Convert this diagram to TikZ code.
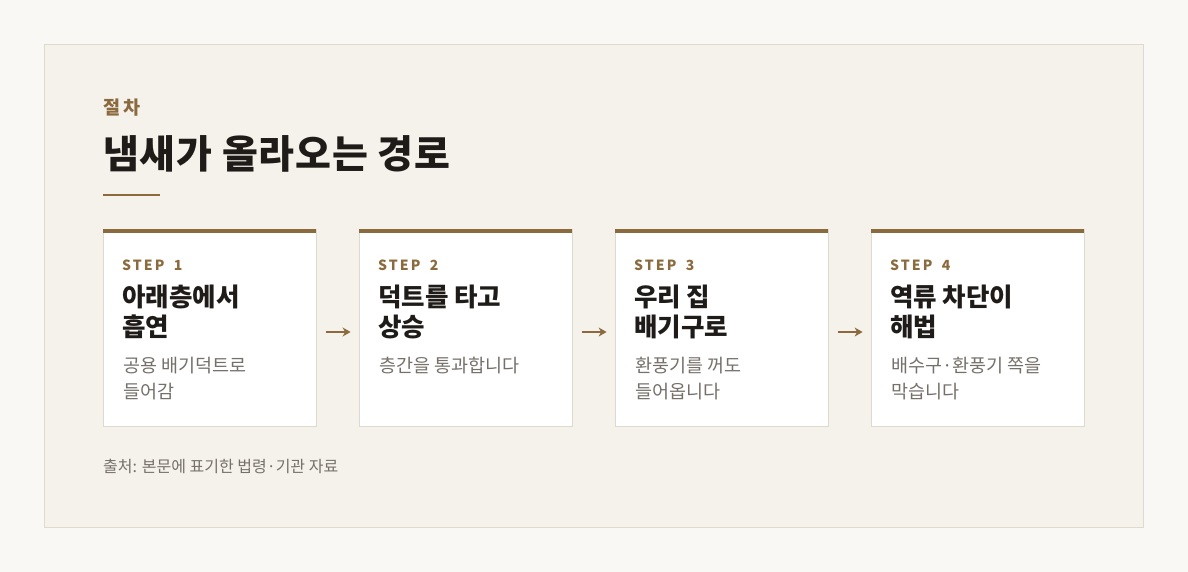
\documentclass[tikz,border=0pt]{standalone}
\usepackage{fontspec}
\setmainfont{Noto Sans CJK KR}
\usetikzlibrary{arrows.meta}
\definecolor{pagebg}{HTML}{F9F8F5}
\definecolor{panelbg}{HTML}{F5F2EB}
\definecolor{panelline}{HTML}{E0D9CE}
\definecolor{brown}{HTML}{8B6A3E}
\definecolor{ink}{HTML}{1E1B18}
\definecolor{mute}{HTML}{75706A}
\newcommand{\stepno}[1]{STEP \hspace{4pt}#1}
\tikzset{
  card/.style={draw=panelline, fill=white, line width=0.8pt, minimum width=213pt, minimum height=197pt, inner sep=0pt},
  steplabel/.style={anchor=base west, inner sep=0pt, text=brown, font=\fontsize{14}{16}\selectfont\bfseries\addfontfeatures{LetterSpace=15}},
  cardtitle/.style={anchor=base west, inner sep=0pt, text=ink, font=\fontsize{25.5}{30}\selectfont\bfseries},
  carddesc/.style={anchor=base west, inner sep=0pt, text=mute, font=\fontsize{18.5}{26}\selectfont},
  flow/.style={draw=brown, line width=2.2pt, -{Stealth[length=8pt,width=9pt]}}
}
\begin{document}
\begin{tikzpicture}[x=1pt,y=-1pt]
\useasboundingbox[fill=pagebg] (0,0) rectangle (1188,572);
% panel
\filldraw[fill=panelbg, draw=panelline, line width=0.8pt] (44.5,44.5) rectangle (1143.5,527.5);
% heading
\node[anchor=base west, inner sep=0pt, text=brown, font=\fontsize{18.5}{20}\selectfont\bfseries\addfontfeatures{LetterSpace=18}] (kicker) at (103,115) {절차};
\node[anchor=base west, inner sep=0pt, text=ink, font=\fontsize{39}{44}\selectfont\bfseries\addfontfeatures{LetterSpace=2}] (title) at (103,169) {냄새가 올라오는 경로};
\draw[brown, line width=2pt] (103,195) -- (160,195);
% cards
\node[card] (s1) at (209.5,327.5) {};
\node[card] (s2) at (465.5,327.5) {};
\node[card] (s3) at (721.5,327.5) {};
\node[card] (s4) at (977.5,327.5) {};
\fill[brown] (s1.north west) rectangle ++(213,4);
\fill[brown] (s2.north west) rectangle ++(213,4);
\fill[brown] (s3.north west) rectangle ++(213,4);
\fill[brown] (s4.north west) rectangle ++(213,4);
% step 1
\node[steplabel] (s1n) at (122,270) {\stepno{1}};
\node[cardtitle] (s1a) at (122,306) {아래층에서};
\node[cardtitle] (s1b) at (122,336) {흡연};
\node[carddesc] (s1c) at (123,372) {공용 배기덕트로};
\node[carddesc] (s1d) at (123,398) {들어감};
% step 2
\node[steplabel] (s2n) at (378,270) {\stepno{2}};
\node[cardtitle] (s2a) at (378,306) {덕트를 타고};
\node[cardtitle] (s2b) at (378,336) {상승};
\node[carddesc] (s2c) at (379,372) {층간을 통과합니다};
% step 3
\node[steplabel] (s3n) at (634,270) {\stepno{3}};
\node[cardtitle] (s3a) at (634,306) {우리 집};
\node[cardtitle] (s3b) at (634,336) {배기구로};
\node[carddesc] (s3c) at (635,372) {환풍기를 꺼도};
\node[carddesc] (s3d) at (635,398) {들어옵니다};
% step 4
\node[steplabel] (s4n) at (890,270) {\stepno{4}};
\node[cardtitle] (s4a) at (890,306) {역류 차단이};
\node[cardtitle] (s4b) at (890,336) {해법};
\node[carddesc] (s4c) at (891,372) {배수구·환풍기 쪽을};
\node[carddesc] (s4d) at (891,398) {막습니다};
% arrows
\draw[flow] ([xshift=10pt,yshift=-4.5pt]s1.east) -- ([xshift=-8pt,yshift=-4.5pt]s2.west);
\draw[flow] ([xshift=10pt,yshift=-4.5pt]s2.east) -- ([xshift=-8pt,yshift=-4.5pt]s3.west);
\draw[flow] ([xshift=10pt,yshift=-4.5pt]s3.east) -- ([xshift=-8pt,yshift=-4.5pt]s4.west);
% source
\node[anchor=base west, inner sep=0pt, text=mute, font=\fontsize{16}{18}\selectfont] (src) at (103,472) {출처: 본문에 표기한 법령·기관 자료};
\end{tikzpicture}
\end{document}
